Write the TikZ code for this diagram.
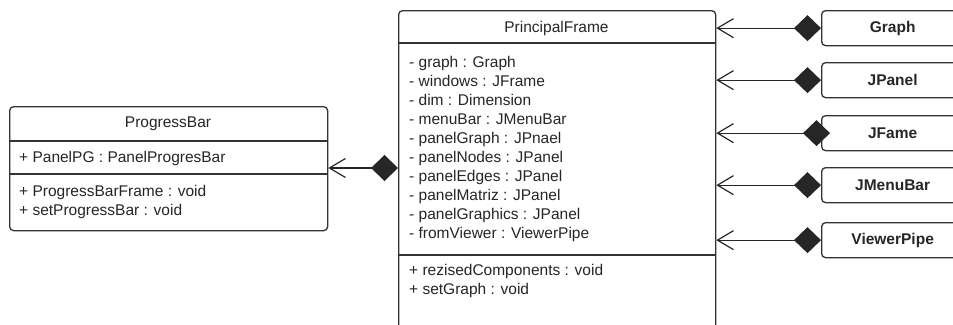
\documentclass[tikz,border=0pt]{standalone}
\usepackage{fontspec}
\setmainfont{Liberation Sans}
\usetikzlibrary{arrows.meta}
\begin{document}
\begin{tikzpicture}[x=1pt,y=-1pt,
  box/.style={draw=black!80,line width=1.3pt,rounded corners=4pt,fill=white,inner sep=0pt,anchor=north west},
  refbox/.style={box,minimum width=142pt,minimum height=35pt,font=\fontsize{15.5}{19}\selectfont\bfseries,text=black!85},
  sep/.style={draw=black!80,line width=1.3pt},
  txt/.style={anchor=base west,inner sep=0pt,font=\fontsize{15.5}{19}\selectfont,text=black!85},
  ttl/.style={anchor=base,inner sep=0pt,font=\fontsize{15.5}{19}\selectfont,text=black!85},
  assoc/.style={draw=black!85,line width=1.2pt,{Diamond[length=27pt,width=26pt]}-{Straight Barb[length=16pt,width=19pt,line width=1.2pt]}}
]
\useasboundingbox (0,0) rectangle (953,324);
\begin{scope}
\clip (0,0) rectangle (953,324);
% PrincipalFrame
\node[box,minimum width=317pt,minimum height=340pt] (pf) at (398,10) {};
\draw[sep] ([yshift=-33pt]pf.north west) -- ([yshift=-33pt]pf.north east);
\draw[sep] ([yshift=-245pt]pf.north west) -- ([yshift=-245pt]pf.north east);
\node[ttl] (pft) at (556.5,32.5) {PrincipalFrame};
\foreach \t [count=\i] in {- graph : Graph, - windows : JFrame, - dim : Dimension,
  - menuBar : JMenuBar, - panelGraph : JPnael, - panelNodes : JPanel,
  - panelEdges : JPanel, - panelMatriz : JPanel, - panelGraphics : JPanel,
  - fromViewer : ViewerPipe}
  \node[txt] (pfa\i) at (409,{62+19.0*(\i-1)+5.5}) {\t};
\node[txt] (pfm1) at (409,275.5) {+ rezisedComponents : void};
\node[txt] (pfm2) at (409,294.5) {+ setGraph : void};
% ProgressBar
\node[box,minimum width=318pt,minimum height=124pt] (pb) at (9,106) {};
\draw[sep] ([yshift=-35pt]pb.north west) -- ([yshift=-35pt]pb.north east);
\draw[sep] ([yshift=-68pt]pb.north west) -- ([yshift=-68pt]pb.north east);
\node[ttl] (pbt) at (168,127.5) {ProgressBar};
\node[txt] (pba1) at (19,162) {+ PanelPG : PanelProgresBar};
\node[txt] (pbm1) at (19,196.5) {+ ProgressBarFrame : void};
\node[txt] (pbm2) at (19,215.5) {+ setProgressBar : void};
% referenced classes
\node[refbox] (graph) at (821,10) {Graph};
\node[refbox] (jpanel) at (821,62) {JPanel};
\node[refbox] (jfame) at (821,115) {JFame};
\node[refbox] (jmenubar) at (821,167) {JMenuBar};
\node[refbox] (viewer) at (821,222) {ViewerPipe};
% connectors
\draw[assoc] (graph.west) -- (pf.east |- graph.west);
\draw[assoc] (jpanel.west) -- (pf.east |- jpanel.west);
\draw[assoc] ([xshift=9pt]jfame.west) -- (pf.east |- jfame.west);
\draw[assoc] (jmenubar.west) -- (pf.east |- jmenubar.west);
\draw[assoc] (viewer.west) -- (pf.east |- viewer.west);
\draw[assoc] (pf.west |- 0,168) -- (pb.east |- 0,168);
\end{scope}
\end{tikzpicture}
\end{document}
